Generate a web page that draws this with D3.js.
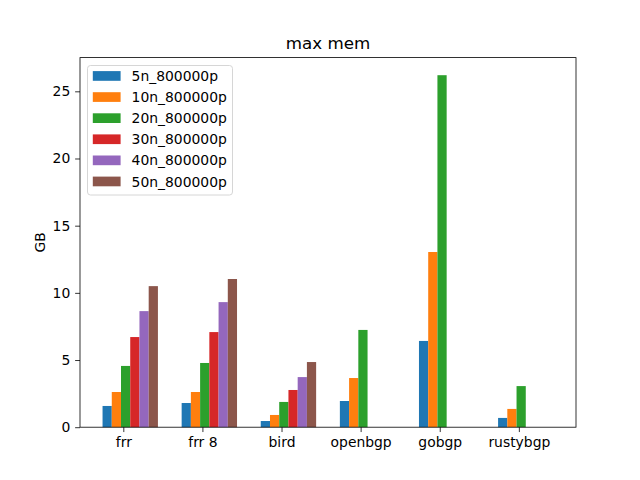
<!DOCTYPE html>
<html>
<head>
<meta charset="utf-8">
<script src="https://cdn.jsdelivr.net/npm/d3@7"></script>
<style>
  body { margin: 0; background: #fff; }
  text { font-family: "DejaVu Sans", sans-serif; }
</style>
</head>
<body>
<div class="canvas"></div>
<script>
// data (GB)
const daemons = ['frr', 'frr 8', 'bird', 'openbgp', 'gobgp', 'rustybgp'];
const seriesNames = ['5n_800000p', '10n_800000p', '20n_800000p', '30n_800000p', '40n_800000p', '50n_800000p'];
const s5n = [1.58, 1.80, 0.46, 1.95, 6.42, 0.69];
const s10n = [2.62, 2.62, 0.91, 3.66, 13.04, 1.36];
const s20n = [4.56, 4.78, 1.88, 7.24, 26.2, 3.06];
const s30n = [6.71, 7.08, 2.77, 0, 0, 0];
const s40n = [8.64, 9.31, 3.73, 0, 0, 0];
const s50n = [10.5, 11.03, 4.85, 0, 0, 0];
const series = [s5n, s10n, s20n, s30n, s40n, s50n];
const yTicks = [0, 5, 10, 15, 20, 25];
const colors = ['#1f77b4', '#ff7f0e', '#2ca02c', '#d62728', '#9467bd', '#8c564b'];

const W = 640, H = 480;
const axL = 80, axR = 576, axT = 57.6, axB = 427.2;
const bw = 0.7 / 6;

const svg = d3.select('.canvas').append('svg')
    .attr('width', W)
    .attr('height', H);

// x extent of all bars, plus matplotlib's 5% margin
const x0 = -2.25 * bw, x1 = daemons.length - 1 + 3.75 * bw;
const pad = (x1 - x0) * 0.05;
const x = d3.scaleLinear().domain([x0 - pad, x1 + pad]).range([axL, axR]);

const ymax = d3.max(series.flat()) * 1.05;
const y = d3.scaleLinear().domain([0, ymax]).range([axB, axT]);

// bars
series.forEach((vals, j) => {
  svg.append('g')
    .selectAll('rect')
    .data(vals)
    .join('rect')
    .attr('x', (d, i) => x(i + (j - 2.25) * bw))
    .attr('width', x(bw) - x(0))
    .attr('y', d => y(d))
    .attr('height', d => y(0) - y(d))
    .attr('fill', colors[j]);
});

// axes
const xAxis = d3.axisBottom(x)
    .tickValues(d3.range(daemons.length))
    .tickFormat(i => daemons[i])
    .tickSize(4.86)
    .tickPadding(4.86);
const yAxis = d3.axisLeft(y)
    .tickValues(yTicks)
    .tickSize(4.86)
    .tickPadding(4.86);

const gx = svg.append('g')
    .attr('transform', `translate(0,${axB})`)
    .call(xAxis);
const gy = svg.append('g')
    .attr('transform', `translate(${axL},0)`)
    .call(yAxis);

[gx, gy].forEach(g => {
  g.select('.domain').remove();
  g.selectAll('.tick line').attr('stroke', '#000').attr('stroke-width', 0.8);
  g.selectAll('.tick text')
    .attr('fill', '#000')
    .style('font-family', '"DejaVu Sans", sans-serif')
    .style('font-size', '13.9px');
});

// frame
svg.append('rect')
    .attr('x', axL)
    .attr('y', axT)
    .attr('width', axR - axL)
    .attr('height', axB - axT)
    .attr('fill', 'none')
    .attr('stroke', '#000')
    .attr('stroke-width', 0.8);

// title and label
svg.append('text')
    .attr('x', (axL + axR) / 2)
    .attr('y', axT - 8.3)
    .attr('text-anchor', 'middle')
    .style('font-size', '16.7px')
    .text('max mem');

svg.append('text')
    .attr('transform', `translate(45,${(axT + axB) / 2}) rotate(-90)`)
    .attr('text-anchor', 'middle')
    .style('font-size', '13.9px')
    .text('GB');

// legend
const legend = svg.append('g');
legend.append('rect')
    .attr('x', 87.5)
    .attr('y', 65.5)
    .attr('width', 145)
    .attr('height', 129.5)
    .attr('rx', 3)
    .attr('fill', '#fff')
    .attr('fill-opacity', 0.8)
    .attr('stroke', '#ccc')
    .attr('stroke-width', 0.8);

const rows = legend.selectAll('g.row')
    .data(seriesNames)
    .join('g')
    .attr('class', 'row')
    .attr('transform', (d, i) => `translate(0,${76 + i * 21.1})`);
rows.append('rect')
    .attr('x', 92.8)
    .attr('y', -4.9)
    .attr('width', 27.8)
    .attr('height', 9.7)
    .attr('fill', (d, i) => colors[i]);
rows.append('text')
    .attr('x', 131.6)
    .attr('y', 5)
    .style('font-size', '13.9px')
    .text(d => d);
</script>
</body>
</html>
